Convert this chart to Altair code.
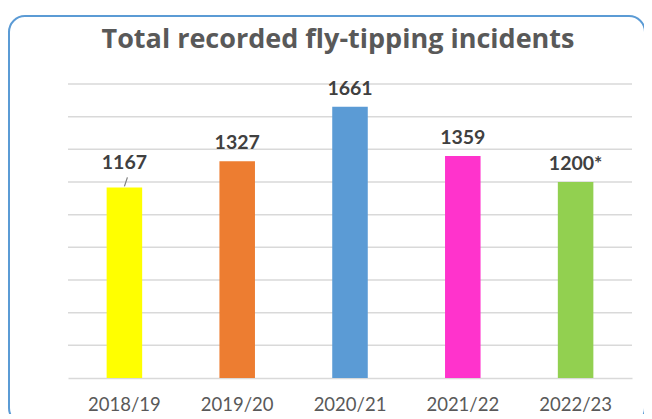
import altair as alt
import pandas as pd

years = ["2018/19", "2019/20", "2020/21", "2021/22", "2022/23"]
values = [1167, 1327, 1661, 1359, 1200]
labels = ["1167", "1327", "1661", "1359", "1200*"]
colors = ["#FFFF00", "#ED7D31", "#5B9BD5", "#FF33CC", "#92D050"]
grid_values = [200, 400, 600, 800, 1000, 1200, 1400, 1600, 1800]
title_text = "Total recorded fly-tipping incidents"

df = pd.DataFrame({"year": years, "value": values, "label": labels})
grid_df = pd.DataFrame({"g": grid_values})

W, H = 564, 294

xscale = alt.Scale(domain=years, paddingInner=0.685, paddingOuter=0.3425)
yscale = alt.Scale(domain=[0, 1800], nice=False)

grid = alt.Chart(grid_df).mark_rule(color="#D9D9D9", strokeWidth=1.5).encode(
    y=alt.Y("g:Q", scale=yscale, axis=None)
)

bars = alt.Chart(df).mark_bar().encode(
    x=alt.X("year:N", sort=years, title=None, scale=xscale,
            axis=alt.Axis(labelAngle=0, labelFont="Lato", labelFontSize=18.5,
                          labelColor="#595959", labelPadding=17, ticks=False,
                          domain=True, domainColor="#D9D9D9", domainWidth=1.5,
                          grid=False)),
    y=alt.Y("value:Q", scale=yscale, axis=None),
    color=alt.Color("year:N", scale=alt.Scale(domain=years, range=colors), legend=None),
)

text = alt.Chart(df).transform_filter(alt.datum.year != "2018/19").mark_text(
    dy=-12, baseline="alphabetic", font="Lato", fontWeight="bold", fontSize=19.5,
    color="#404040"
).encode(x=alt.X("year:N", sort=years), y=alt.Y("value:Q", axis=None), text="label:N")

text_first = alt.Chart(df).transform_filter(alt.datum.year == "2018/19").mark_text(
    dy=-18, baseline="alphabetic", font="Lato", fontWeight="bold", fontSize=19.5,
    color="#404040"
).encode(x=alt.X("year:N", sort=years), y=alt.Y("value:Q", axis=None), text="label:N")

leader = alt.Chart(df).transform_filter(alt.datum.year == "2018/19").mark_rule(
    color="#7F7F7F", strokeWidth=1.2, yOffset=-1, y2Offset=-10, x2Offset=3
).encode(x=alt.X("year:N", sort=years), x2=alt.X2("year:N"),
         y=alt.Y("value:Q", axis=None), y2=alt.Y2("value:Q"))

border = alt.Chart(alt.Data(values=[{}])).mark_rect(
    fillOpacity=0, stroke="#5B9BD5", strokeWidth=2, cornerRadius=16, clip=False
).encode(x=alt.value(-59), x2=alt.value(577), y=alt.value(-68), y2=alt.value(340))

title = alt.Chart(alt.Data(values=[{"t": title_text}])).mark_text(
    font="Open Sans", fontWeight="bold", fontSize=27, color="#595959",
    baseline="alphabetic", align="center", clip=False
).encode(x=alt.value(270), y=alt.value(-36), text="t:N")

chart = alt.layer(border, grid, bars, text, text_first, leader, title).properties(
    width=W, height=H,
    background="white",
    padding={"left": 60, "top": 76, "right": 12, "bottom": 36},
    autosize=alt.AutoSizeParams(type="none"),
).configure_view(strokeWidth=0)

chart.save("out.html", embed_options={"renderer": "svg", "actions": False})
